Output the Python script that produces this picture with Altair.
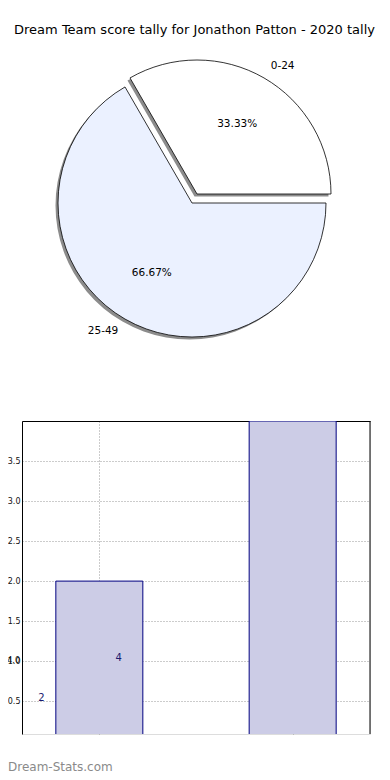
import math
import altair as alt
import pandas as pd

# ---- data ----
title_text = "Dream Team score tally for Jonathon Patton - 2020 tally"
bands = ["0-24", "25-49"]
counts = [2, 4]
slice_fills = ["#ffffff", "#ebf1ff"]
y_tick_values = [0.5, 1.0, 1.5, 2.0, 2.5, 3.0, 3.5]
extra_tick_label = ["4.0"]
extra_tick_pos = [1.0]
watermark = ["Dream-Stats.com"]

FONT = "DejaVu Sans"
pie_df = pd.DataFrame({"label": bands, "count": counts})
bar_df = pd.DataFrame({"label": bands, "count": counts})

# plot-area origin on the page is (22, 421); everything else is placed relative to it
OX, OY = 22, 421
BW, BH = 348, 313

# ---- pie (drawn above the bar plot area) ----
R = 134
big_c = (192 - OX, 203 - OY)
small_c = (197 - OX, 194 - OY)
centers = [small_c, big_c]
theta_scale = alt.Scale(domain=[0, 1], range=[11 * math.pi / 6, 23 * math.pi / 6])

base = (
    alt.Chart(pie_df)
    .transform_joinaggregate(total="sum(count)")
    .transform_window(cum="sum(count)", sort=[alt.SortField("label")], frame=[None, 0])
    .transform_calculate(
        t0="(datum.cum - datum.count) / datum.total",
        t1="datum.cum / datum.total",
        tm="(datum.cum - datum.count / 2) / datum.total",
        pct="format(datum.count / datum.total * 100, '.2f') + '%'",
    )
)

layers = []
for i, lab in enumerate(bands):
    cx, cy = centers[i]
    sub = base.transform_filter(alt.datum.label == lab)
    shadow = sub.mark_arc(radius=R, fill="#8c8c8c").encode(
        theta=alt.Theta("t0:Q", scale=theta_scale),
        theta2="t1:Q",
        x=alt.value(cx - 2.5),
        y=alt.value(cy + 2.5),
    )
    wedge = sub.mark_arc(radius=R, fill=slice_fills[i], stroke="black", strokeWidth=0.8).encode(
        theta=alt.Theta("t0:Q", scale=theta_scale),
        theta2="t1:Q",
        x=alt.value(cx),
        y=alt.value(cy),
    )
    lbl = sub.mark_text(
        radius=R * 1.1, align="left" if i == 0 else "right", baseline="middle",
        fontSize=10.5, font=FONT, color="black",
    ).encode(
        theta=alt.Theta("tm:Q", scale=theta_scale),
        text="label:N",
        x=alt.value(cx),
        y=alt.value(cy),
    )
    pct = sub.mark_text(
        radius=R * 0.6, align="center", baseline="middle",
        fontSize=10.5, font=FONT, color="black",
    ).encode(
        theta=alt.Theta("tm:Q", scale=theta_scale),
        text="pct:N",
        x=alt.value(cx),
        y=alt.value(cy),
    )
    layers += [shadow, wedge, lbl, pct]

title_mark = alt.Chart(pd.DataFrame({"t": [title_text]})).mark_text(
    fontSize=13, font=FONT, color="black", align="center", baseline="middle"
).encode(text="t:N", x=alt.value(194.5 - OX), y=alt.value(30 - OY))

# ---- bars ----
xs = alt.Scale(domain=[-0.4, 1.4], nice=False, zero=False)
ys = alt.Scale(domain=[0.09, 4.0], nice=False, zero=False)

bbase = (
    alt.Chart(bar_df)
    .transform_window(rn="row_number()")
    .transform_calculate(
        x0="datum.rn - 1 - 0.225",
        x1="datum.rn - 1 + 0.225",
        tx="(datum.rn - 1) * 0.4 - 0.3",
        ty="datum.count / 4",
    )
)

grid_axis_x = alt.Axis(
    orient="top", values=[0, 1], labels=False, ticks=False, title=None,
    domain=True, domainColor="black", domainWidth=1,
    grid=True, gridDash=[1, 2], gridColor="#999999", gridWidth=1,
)
grid_axis_y = alt.Axis(
    orient="left", values=y_tick_values, format=".1f", title=None,
    labelFontSize=8, labelFont=FONT, labelColor="#111111", labelPadding=2,
    ticks=False, domain=True, domainColor="black", domainWidth=1,
    grid=True, gridDash=[1, 2], gridColor="#999999", gridWidth=1,
)

bars = bbase.mark_rect(fill="#ccccE6", stroke="#000080", strokeWidth=1, clip=True).encode(
    x=alt.X("x0:Q", scale=xs, axis=grid_axis_x),
    x2="x1:Q",
    y=alt.Y("count:Q", scale=ys, axis=grid_axis_y),
    y2=alt.datum(0),
)

bar_text = bbase.mark_text(
    fontSize=10, font=FONT, color="#1a1a6e", align="center", baseline="alphabetic"
).encode(
    x=alt.X("tx:Q", scale=xs),
    y=alt.Y("ty:Q", scale=ys),
    text="count:Q",
)

extra_lbl = alt.Chart(pd.DataFrame({"v": extra_tick_pos, "t": extra_tick_label})).mark_text(
    fontSize=8, font=FONT, color="#111111", align="right", baseline="middle"
).encode(y=alt.Y("v:Q", scale=ys), x=alt.value(-2), text="t:N")

right_border = alt.Chart(pd.DataFrame({"a": [0]})).mark_rule(color="black", strokeWidth=1).encode(
    x=alt.value(BW), y=alt.value(0), y2=alt.value(BH)
)

wm = alt.Chart(pd.DataFrame({"t": watermark})).mark_text(
    fontSize=12, font=FONT, color="#8a8a8a", align="left", baseline="middle"
).encode(text="t:N", x=alt.value(8 - OX), y=alt.value(767 - OY))

chart = (
    alt.layer(bars, bar_text, extra_lbl, right_border, title_mark, *layers, wm)
    .properties(
        width=BW,
        height=BH,
        autosize=alt.AutoSizeParams(type="none"),
        padding={"left": OX - 8, "top": OY - 8, "right": 390 - 16 - (OX - 8) - BW,
                 "bottom": 780 - 8 - (OY - 8) - BH},
    )
    .configure_view(stroke="transparent", strokeWidth=0)
    .configure(font=FONT)
)

chart.save("out.html", embed_options={"renderer": "svg", "actions": False})
